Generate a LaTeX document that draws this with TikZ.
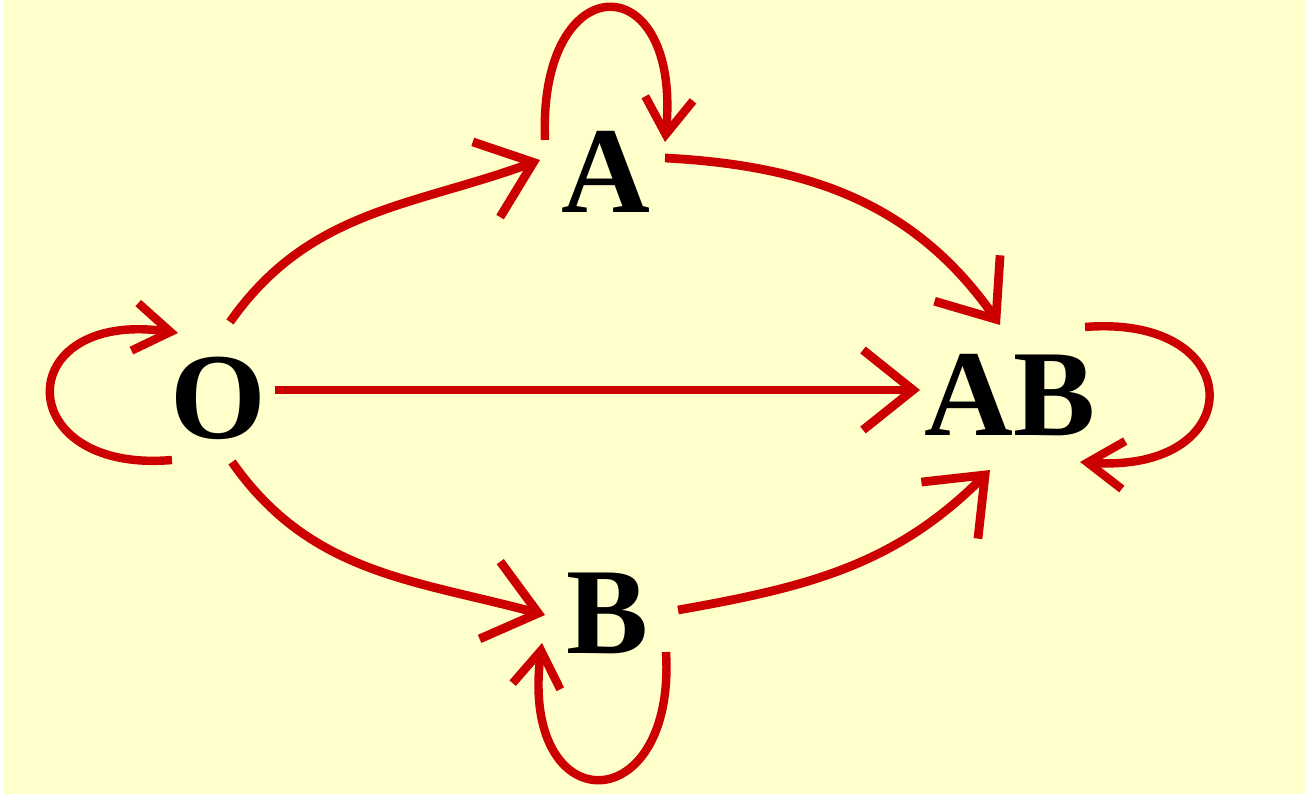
\documentclass[tikz,border=0pt]{standalone}
\usepackage{fontspec}
\setmainfont{Liberation Serif}
\usetikzlibrary{arrows.meta}
\definecolor{paper}{HTML}{FFFFCC}
\definecolor{wire}{HTML}{CC0000}

\begin{document}
\begin{tikzpicture}[
    letter/.style={inner sep=0pt, font=\fontsize{35}{40}\selectfont\bfseries},
    link/.style={draw=wire, line width=2.5pt, -{Straight Barb[length=5mm,width=8mm]}},
    selfloop/.style={draw=wire, line width=2.4pt, -{Straight Barb[length=3.6mm,width=4.8mm]}}
]
    \useasboundingbox (0,0) rectangle (13.06,7.94);
    \fill[paper] (0.04,0) rectangle (13.06,7.94);
    % states
    \node[letter] (O) at (2.18,3.96) {O};
    \node[letter] (A) at (6.06,6.22) {A};
    \node[letter] (AB) at (10.10,3.99) {AB};
    \node[letter] (B) at (6.08,1.81) {B};
    % transitions
    \draw[link] ([shift={(0.57,0.08)}]O.center) -- ([shift={(-0.90,0.05)}]AB.center);
    \draw[link] ([shift={(0.12,0.76)}]O.center) to[out=55,in=200] ([shift={(-0.66,0.12)}]A.center);
    \draw[link] ([shift={(0.59,0.14)}]A.center) to[out=-3,in=125] ([shift={(-0.10,0.70)}]AB.center);
    \draw[link] ([shift={(0.14,-0.64)}]O.center) to[out=-55,in=165] ([shift={(-0.63,-0.02)}]B.center);
    \draw[link] ([shift={(0.70,0.03)}]B.center) to[out=10,in=225] ([shift={(-0.20,-0.75)}]AB.center);
    % staying put
    \draw[selfloop] ([shift={(-0.61,0.32)}]A.center) .. controls +(-0.07,1.76) and +(0.17,1.78) .. ([shift={(0.59,0.30)}]A.center);
    \draw[selfloop] ([shift={(-0.46,-0.62)}]O.center) .. controls +(-1.62,-0.14) and +(-1.68,0.24) .. ([shift={(-0.40,0.65)}]O.center);
    \draw[selfloop] ([shift={(0.75,0.68)}]AB.center) .. controls +(1.65,0.13) and +(1.70,-0.12) .. ([shift={(0.70,-0.67)}]AB.center);
    \draw[selfloop] ([shift={(0.58,-0.39)}]B.center) .. controls +(0.10,-1.70) and +(-0.23,-1.80) .. ([shift={(-0.66,-0.30)}]B.center);
\end{tikzpicture}
\end{document}
